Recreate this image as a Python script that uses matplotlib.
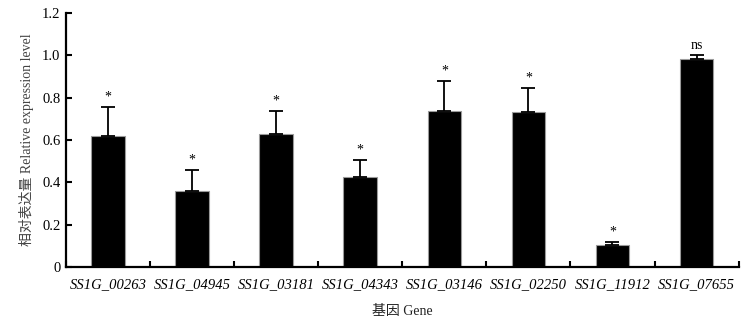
import matplotlib.pyplot as plt
import numpy as np

# Data
genes = ["SS1G_00263", "SS1G_04945", "SS1G_03181", "SS1G_04343",
         "SS1G_03146", "SS1G_02250", "SS1G_11912", "SS1G_07655"]
expression = [0.62, 0.36, 0.628, 0.424, 0.738, 0.731, 0.104, 0.981]
errors = [0.137, 0.098, 0.109, 0.083, 0.141, 0.116, 0.014, 0.020]
marks = ["*", "*", "*", "*", "*", "*", "*", "ns"]

plt.rcParams['font.family'] = ['Liberation Serif', 'Noto Sans CJK SC']

fig = plt.figure(figsize=(7.56, 3.23), dpi=100)
ax = fig.add_axes([0.0873, 0.173, 0.8897, 0.787])

x = np.arange(len(genes))
ax.bar(x, expression, width=0.4, color="black", edgecolor="#9a9a9a",
       linewidth=0.8, zorder=2)
ax.errorbar(x, expression, yerr=[np.zeros(len(x)), errors], fmt="none",
            ecolor="black", elinewidth=1.3, capsize=5, capthick=1.3, zorder=3)

for xi, v, e, m in zip(x, expression, errors, marks):
    ax.text(xi, v + e + 0.015, m, ha="center", va="bottom", fontsize=10)

ax.set_xlim(-0.5, 7.5)
ax.set_ylim(0, 1.2)
ax.set_yticks([0, 0.2, 0.4, 0.6, 0.8, 1.0, 1.2])
ax.set_yticklabels(["0", "0.2", "0.4", "0.6", "0.8", "1.0", "1.2"], fontsize=10.5)

# category labels centered on bars, tick marks on the boundaries
ax.set_xticks(np.arange(-0.5, 8.0, 1.0))
ax.set_xticklabels([])
ax.set_xticks(x, minor=True)
ax.set_xticklabels(genes, minor=True, fontsize=10.5, style="italic")
ax.tick_params(axis="x", which="minor", length=0, pad=8)
ax.tick_params(axis="x", which="major", direction="in", length=4, width=1.5)
ax.tick_params(axis="y", direction="in", length=4, width=1.5, pad=4)

for s in ["top", "right"]:
    ax.spines[s].set_visible(False)
for s in ["left", "bottom"]:
    ax.spines[s].set_linewidth(1.6)

ax.set_ylabel("相对表达量 Relative expression level", fontsize=10, color="#444444",
              labelpad=6)
ax.set_xlabel("基因 Gene", fontsize=10, color="#222222", labelpad=10)

fig.savefig("out.png", dpi=100)
